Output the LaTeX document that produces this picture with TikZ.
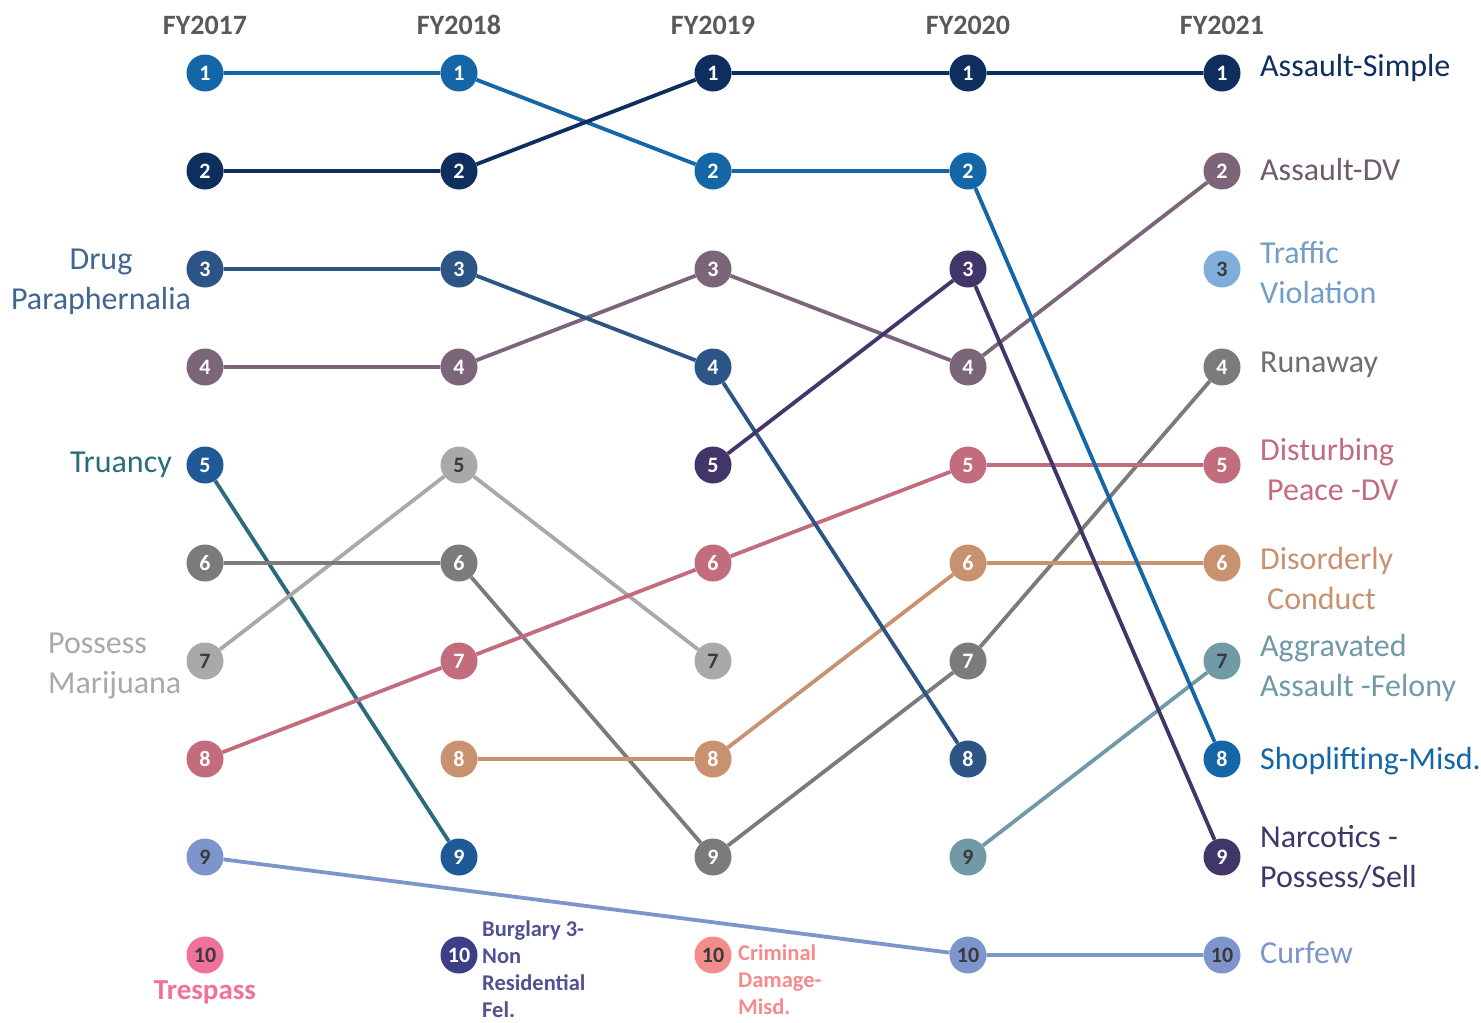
\documentclass[tikz,border=0pt]{standalone}
\usepackage{fontspec}
\setmainfont{Carlito}
\definecolor{cblue}{HTML}{1566A6}
\definecolor{cnavy}{HTML}{0E2F5E}
\definecolor{csteel}{HTML}{2C5585}
\definecolor{cmauve}{HTML}{7C6479}
\definecolor{ctruc}{HTML}{1F5A96}
\definecolor{ctrul}{HTML}{2A6B7C}
\definecolor{clgray}{HTML}{A9A9A9}
\definecolor{cgray}{HTML}{7B7B7B}
\definecolor{crose}{HTML}{C26C7E}
\definecolor{ctan}{HTML}{C89271}
\definecolor{ccurf}{HTML}{7D95CC}
\definecolor{cnarc}{HTML}{41356A}
\definecolor{caggr}{HTML}{6F9AA6}
\definecolor{ctraf}{HTML}{7FAEDC}
\definecolor{ctres}{HTML}{F0719B}
\definecolor{cburg}{HTML}{3C3F85}
\definecolor{ccrim}{HTML}{F38C8C}
\definecolor{chead}{HTML}{595959}
\definecolor{cdark}{HTML}{3A3A3A}
\tikzset{
  dot/.style={circle, minimum size=37pt, inner sep=0pt, text=white,
    font=\bfseries\fontsize{22}{22}\selectfont},
  dkdot/.style={dot, text=cdark},
  link/.style={line width=3.8pt},
  head/.style={text=chead, font=\bfseries\fontsize{28}{32}\selectfont},
  lab/.style={font=\fontsize{32}{40}\selectfont, inner sep=0pt},
  rlab/.style={lab, anchor=west, align=left},
  blab/.style={font=\bfseries\fontsize{22.5}{27}\selectfont, inner sep=0pt, anchor=north west, align=left}
}
\begin{document}
\begin{tikzpicture}[x=1pt,y=-1pt]
\useasboundingbox[fill=white] (0,0) rectangle (1481,1023);
% headers
\node[head] (h1) at (205,25) {FY2017};
\node[head] (h2) at (459,25) {FY2018};
\node[head] (h3) at (713,25) {FY2019};
\node[head] (h4) at (968,25) {FY2020};
\node[head] (h5) at (1222,25) {FY2021};
% FY2017
\node[dot, fill=cblue] (a1) at (205,73) {1};
\node[dot, fill=cnavy] (a2) at (205,171) {2};
\node[dot, fill=csteel] (a3) at (205,269) {3};
\node[dot, fill=cmauve] (a4) at (205,367) {4};
\node[dot, fill=ctruc] (a5) at (205,465) {5};
\node[dot, fill=cgray] (a6) at (205,563) {6};
\node[dkdot, fill=clgray] (a7) at (205,661) {7};
\node[dot, fill=crose] (a8) at (205,759) {8};
\node[dkdot, fill=ccurf] (a9) at (205,857) {9};
\node[dkdot, fill=ctres] (a10) at (205,955) {10};
% FY2018
\node[dot, fill=cblue] (b1) at (459,73) {1};
\node[dot, fill=cnavy] (b2) at (459,171) {2};
\node[dot, fill=csteel] (b3) at (459,269) {3};
\node[dot, fill=cmauve] (b4) at (459,367) {4};
\node[dkdot, fill=clgray] (b5) at (459,465) {5};
\node[dot, fill=cgray] (b6) at (459,563) {6};
\node[dot, fill=crose] (b7) at (459,661) {7};
\node[dot, fill=ctan] (b8) at (459,759) {8};
\node[dot, fill=ctruc] (b9) at (459,857) {9};
\node[dot, fill=cburg] (b10) at (459,955) {10};
% FY2019
\node[dot, fill=cnavy] (c1) at (713,73) {1};
\node[dot, fill=cblue] (c2) at (713,171) {2};
\node[dot, fill=cmauve] (c3) at (713,269) {3};
\node[dot, fill=csteel] (c4) at (713,367) {4};
\node[dot, fill=cnarc] (c5) at (713,465) {5};
\node[dot, fill=crose] (c6) at (713,563) {6};
\node[dkdot, fill=clgray] (c7) at (713,661) {7};
\node[dot, fill=ctan] (c8) at (713,759) {8};
\node[dot, fill=cgray] (c9) at (713,857) {9};
\node[dkdot, fill=ccrim] (c10) at (713,955) {10};
% FY2020
\node[dot, fill=cnavy] (d1) at (968,73) {1};
\node[dot, fill=cblue] (d2) at (968,171) {2};
\node[dot, fill=cnarc] (d3) at (968,269) {3};
\node[dot, fill=cmauve] (d4) at (968,367) {4};
\node[dot, fill=crose] (d5) at (968,465) {5};
\node[dot, fill=ctan] (d6) at (968,563) {6};
\node[dot, fill=cgray] (d7) at (968,661) {7};
\node[dot, fill=csteel] (d8) at (968,759) {8};
\node[dkdot, fill=caggr] (d9) at (968,857) {9};
\node[dkdot, fill=ccurf] (d10) at (968,955) {10};
% FY2021
\node[dot, fill=cnavy] (e1) at (1222,73) {1};
\node[dot, fill=cmauve] (e2) at (1222,171) {2};
\node[dkdot, fill=ctraf] (e3) at (1222,269) {3};
\node[dot, fill=cgray] (e4) at (1222,367) {4};
\node[dot, fill=crose] (e5) at (1222,465) {5};
\node[dot, fill=ctan] (e6) at (1222,563) {6};
\node[dkdot, fill=caggr] (e7) at (1222,661) {7};
\node[dot, fill=cblue] (e8) at (1222,759) {8};
\node[dot, fill=cnarc] (e9) at (1222,857) {9};
\node[dkdot, fill=ccurf] (e10) at (1222,955) {10};
% connectors
\draw[link, ctrul] (a5) -- (b9);
\draw[link, clgray] (a7) -- (b5) -- (c7);
\draw[link, cgray] (a6) -- (b6) -- (c9) -- (d7) -- (e4);
\draw[link, crose] (a8) -- (b7) -- (c6) -- (d5) -- (e5);
\draw[link, ctan] (b8) -- (c8) -- (d6) -- (e6);
\draw[link, ccurf] (a9) -- (d10) -- (e10);
\draw[link, caggr] (d9) -- (e7);
\draw[link, cmauve] (a4) -- (b4) -- (c3) -- (d4) -- (e2);
\draw[link, csteel] (a3) -- (b3) -- (c4) -- (d8);
\draw[link, cnarc] (c5) -- (d3) -- (e9);
\draw[link, cblue] (a1) -- (b1) -- (c2) -- (d2) -- (e8);
\draw[link, cnavy] (a2) -- (b2) -- (c1) -- (d1) -- (e1);
% left labels
\node[lab, text=csteel!90!white, align=center] (ldrug) at (101,282) {Drug\\Paraphernalia};
\node[lab, text=ctrul, anchor=east] (ltru) at (172,465) {Truancy};
\node[lab, text=clgray, anchor=west, align=left] (lmar) at (48,666) {Possess\\Marijuana};
% right labels
\node[rlab, text=cnavy] (r1) at (1260,68) {Assault-Simple};
\node[rlab, text=cmauve!90!black] (r2) at (1260,170) {Assault-DV};
\node[rlab, text=ctraf!90!black] (r3) at (1260,273) {Traffic\\Violation};
\node[rlab, text=cgray!90!black] (r4) at (1260,365) {Runaway};
\node[rlab, text=crose] (r5) at (1260,470) {Disturbing\\\hspace*{7pt}Peace -DV};
\node[rlab, text=ctan] (r6) at (1260,578) {Disorderly\\\hspace*{7pt}Conduct};
\node[rlab, text=caggr] (r7) at (1260,668) {Aggravated\\Assault -Felony};
\node[rlab, text=cblue] (r8) at (1260,761) {Shoplifting-Misd.};
\node[rlab, text=cnarc] (r9) at (1260,857) {Narcotics -\\Possess/Sell};
\node[rlab, text=ccurf] (r10) at (1260,953) {Curfew};
% bottom labels
\node[font=\bfseries\fontsize{29}{32}\selectfont, text=ctres, inner sep=0pt] (ltres) at (205,992) {Trespass};
\node[blab, text=cburg!90!white] (lburg) at (482,920) {Burglary 3-\\Non\\Residential\\Fel.};
\node[blab, text=ccrim] (lcrim) at (738,944) {Criminal\\Damage-\\Misd.};
\end{tikzpicture}
\end{document}
